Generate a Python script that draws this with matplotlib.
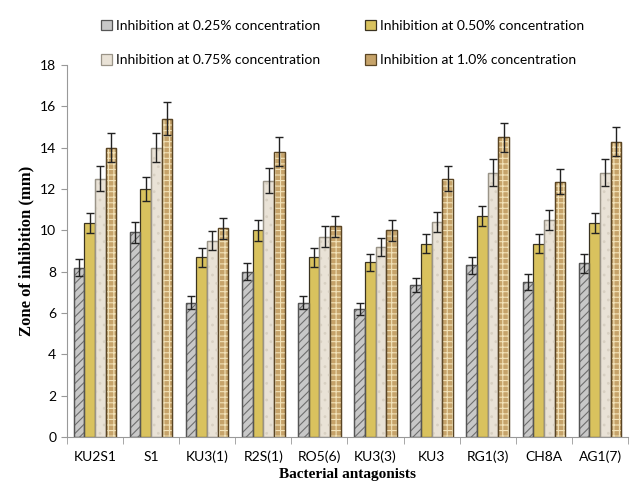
import numpy as np
import matplotlib.pyplot as plt

strains = ['KU2S1', 'S1', 'KU3(1)', 'R2S(1)', 'RO5(6)', 'KU3(3)', 'KU3', 'RG1(3)', 'CH8A', 'AG1(7)']
labels = ['Inhibition at 0.25% concentration', 'Inhibition at 0.50% concentration',
          'Inhibition at 0.75% concentration', 'Inhibition at 1.0% concentration']

c025 = [8.2, 9.9, 6.5, 8.0, 6.5, 6.2, 7.35, 8.3, 7.5, 8.4]
c050 = [10.35, 12.0, 8.7, 10.0, 8.7, 8.45, 9.35, 10.7, 9.35, 10.35]
c075 = [12.5, 14.0, 9.5, 12.4, 9.7, 9.2, 10.4, 12.8, 10.5, 12.8]
c100 = [14.0, 15.4, 10.1, 13.8, 10.2, 10.0, 12.5, 14.5, 12.35, 14.3]

e025 = [0.4, 0.5, 0.3, 0.4, 0.3, 0.3, 0.35, 0.4, 0.4, 0.45]
e050 = [0.5, 0.6, 0.45, 0.5, 0.45, 0.4, 0.45, 0.5, 0.45, 0.5]
e075 = [0.6, 0.7, 0.45, 0.6, 0.5, 0.45, 0.5, 0.65, 0.5, 0.65]
e100 = [0.7, 0.8, 0.5, 0.7, 0.5, 0.5, 0.6, 0.7, 0.6, 0.7]

plt.rcParams['font.family'] = ['Lato', 'DejaVu Sans']
plt.rcParams['hatch.linewidth'] = 0.8

fig = plt.figure(figsize=(6.3, 4.86), dpi=100)
ax = fig.add_axes([0.106, 0.101, 0.891, 0.765])

x = np.arange(len(strains))
w = 0.19
series = [c025, c050, c075, c100]
errs = [e025, e050, e075, e100]
faces = ['#c8c8c8', '#d9c25e', '#e9e2d6', '#c6a36a']
edges = ['#555555', '#3a3320', '#9a9488', '#5a4524']
hatches = ['////', None, '..', '+++']
hcols = ['#6e6e6e', None, '#d8d0c2', '#f2e2b8']

handles = []
for i in range(4):
    pos = x + (i - 1.5) * w
    b = ax.bar(pos, series[i], w, color=faces[i], edgecolor=edges[i], linewidth=0.9, zorder=2)
    if hatches[i]:
        ax.bar(pos, series[i], w, color='none', edgecolor=hcols[i], hatch=hatches[i],
               linewidth=0, zorder=3)
        ax.bar(pos, series[i], w, color='none', edgecolor=edges[i], linewidth=0.9, zorder=4)
    ax.errorbar(pos, series[i], yerr=errs[i], fmt='none', ecolor='#222222',
                elinewidth=1, capsize=3, capthick=1, zorder=5)
    handles.append(b)

ax.set_ylim(0, 18)
ax.set_yticks(range(0, 19, 2))
ax.set_xlim(-0.5, len(strains) - 0.5)
ax.set_xticks(x)
ax.set_xticklabels(strains)
ax.set_xticks(np.arange(-0.5, len(strains)), minor=True)
ax.tick_params(axis='x', which='major', length=0, labelsize=10, pad=10)
ax.tick_params(axis='x', which='minor', length=5, color='#999999')
ax.tick_params(axis='y', length=4, color='#999999', labelsize=10)
for s in ['top', 'right']:
    ax.spines[s].set_visible(False)
for s in ['left', 'bottom']:
    ax.spines[s].set_color('#999999')

ax.set_ylabel('Zone of inhibition (mm)', family='Liberation Serif', fontweight='bold', fontsize=12)
ax.set_xlabel('Bacterial antagonists', family='Liberation Serif', fontweight='bold', fontsize=11, labelpad=3)

# legend fills column-wise, so order handles to get rows 0.25/0.50 then 0.75/1.0
order = [0, 2, 1, 3]
fig.legend([handles[k] for k in order], [labels[k] for k in order], loc='upper left',
           bbox_to_anchor=(0.14, 0.985), ncol=2, frameon=False, fontsize=10,
           handlelength=0.8, handleheight=0.8, handletextpad=0.3,
           columnspacing=3.2, labelspacing=1.6)

fig.savefig('out.png', dpi=100)
